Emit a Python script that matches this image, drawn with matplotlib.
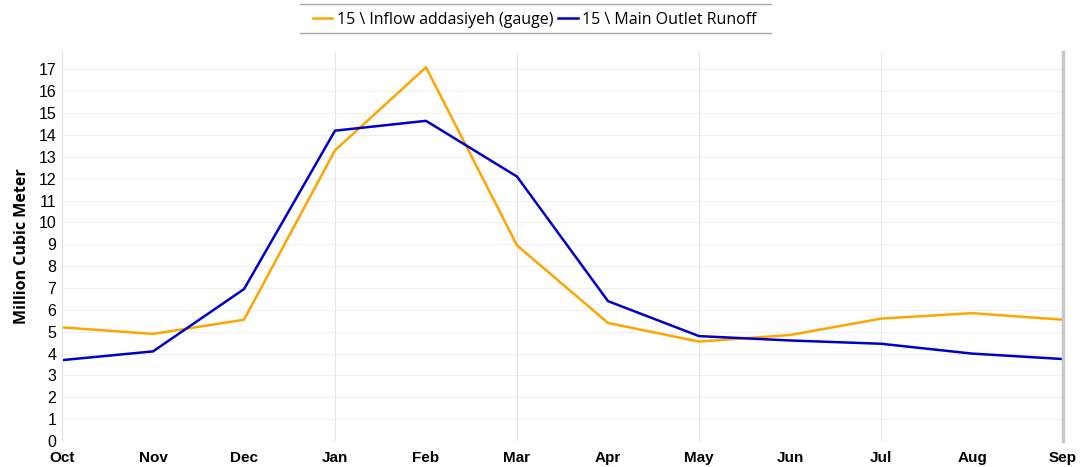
import matplotlib
matplotlib.use("Agg")
from matplotlib import pyplot as plt
from matplotlib.lines import Line2D
import numpy as np

months = ["Oct", "Nov", "Dec", "Jan", "Feb", "Mar", "Apr", "May", "Jun", "Jul", "Aug", "Sep"]
inflow = [5.2, 4.9, 5.55, 13.3, 17.1, 8.95, 5.4, 4.55, 4.85, 5.6, 5.85, 5.55]
outlet = [3.7, 4.1, 6.95, 14.2, 14.65, 12.1, 6.4, 4.8, 4.6, 4.45, 4.0, 3.75]
labels = ["15 \\ Inflow addasiyeh (gauge)", "15 \\ Main Outlet Runoff"]

plt.rcParams['font.family'] = ['Liberation Sans', 'DejaVu Sans']

fig = plt.figure(figsize=(10.83, 4.67), dpi=100)
ax = fig.add_axes([62 / 1083, 26 / 467, 1001 / 1083, 389 / 467])

x = np.arange(len(months))
ax.plot(x, inflow, color='#FFA500', lw=1.8, label=labels[0])
ax.plot(x, outlet, color='#0000CD', lw=1.8, label=labels[1])

ax.set_xlim(0, len(months) - 1)
ax.set_ylim(0, 17.8)
ax.set_yticks(np.arange(0, 18))
ax.set_xticks(x)
ax.set_xticklabels(months, fontweight='bold', fontsize=11)
ax.tick_params(axis='y', labelsize=11.5, length=0, pad=4)
ax.tick_params(axis='x', length=0, pad=7)

for v in range(0, 18):
    ax.axhline(v, color='#f0f0f0', lw=0.8, zorder=0)
for i in range(3, len(months), 2):
    ax.axvline(i, color='#e6e6e6', lw=0.8, zorder=0)

for s in ['top', 'bottom']:
    ax.spines[s].set_visible(False)
ax.spines['left'].set_color('#e0e0e0')
ax.spines['right'].set_color('#c8c8c8')
ax.spines['right'].set_linewidth(2.5)

ax.set_ylabel("Million Cubic Meter", fontweight='bold', fontsize=11.5, family=['Open Sans', 'DejaVu Sans'], labelpad=6)

fig.legend(loc='upper center', bbox_to_anchor=(0.494, 1.005), ncol=2, frameon=False,
           prop={'family': ['Open Sans', 'DejaVu Sans'], 'size': 11.5},
           handlelength=1.2, handletextpad=0.3, columnspacing=0.3)
fig.lines.append(Line2D([300 / 1083, 771 / 1083], [1 - 4 / 467, 1 - 4 / 467], transform=fig.transFigure, color='#aaaaaa', lw=1))
fig.lines.append(Line2D([300 / 1083, 771 / 1083], [1 - 33 / 467, 1 - 33 / 467], transform=fig.transFigure, color='#aaaaaa', lw=1))

plt.savefig("out.png", dpi=100)
plt.close()
